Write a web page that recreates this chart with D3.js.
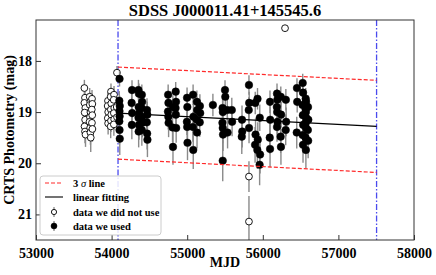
<!DOCTYPE html>
<html>
<head>
<meta charset="utf-8">
<script src="https://cdn.jsdelivr.net/npm/d3@7"></script>
<style>
  body { margin: 0; background: #fff; }
  text { font-family: "Liberation Serif", "Times New Roman", serif; font-weight: bold; }
</style>
</head>
<body>
<div id="chart"></div>
<script>
"use strict";

/* chart title and axis labels */
const chartTitle = "SDSS J000011.41+145545.6";
const xLabel = "MJD";
const yLabel = "CRTS Photometry (mag)";

/* tick values */
const xTicks = [53000, 54000, 55000, 56000, 57000, 58000];
const yTicks = [18, 19, 20, 21];

/* fit window (blue dash-dot lines) */
const fitWindow = [54085, 57505];
/* linear fit: magnitude at the two window edges */
const fitMag = [19.02, 19.28];
/* 3 sigma offset */
const threeSigma = 0.9;

/* data we did not use: [MJD, mag, err] */
const unusedPoints = [
  [53640, 18.53, 0.16], [53648, 18.72, 0.17], [53640, 18.82, 0.18], [53652, 18.92, 0.18],
  [53644, 19.01, 0.19], [53650, 19.15, 0.2], [53642, 19.28, 0.22], [53648, 19.38, 0.23],
  [53655, 19.44, 0.24],
  [53710, 18.70, 0.17], [53718, 18.80, 0.18], [53712, 18.86, 0.18], [53720, 19.00, 0.19],
  [53714, 19.10, 0.2], [53708, 19.19, 0.22], [53716, 19.31, 0.23], [53720, 19.40, 0.24],
  [53724, 19.50, 0.28],
  [53741, 18.74, 0.17], [53745, 18.84, 0.18], [53738, 18.95, 0.19], [53744, 19.06, 0.2],
  [53740, 19.21, 0.22], [53746, 19.33, 0.25],
  [53952, 18.78, 0.17], [53948, 18.88, 0.18], [53955, 19.00, 0.19], [53950, 19.12, 0.2],
  [53954, 19.22, 0.22],
  [53992, 18.60, 0.16], [53988, 18.70, 0.17], [53995, 18.83, 0.18], [53990, 18.95, 0.19],
  [53996, 19.05, 0.2], [53992, 19.17, 0.22], [53988, 19.28, 0.23],
  [54032, 18.66, 0.17], [54028, 18.76, 0.17], [54035, 18.92, 0.18], [54030, 19.02, 0.19],
  [54034, 19.14, 0.2], [54030, 19.24, 0.22],
  [54071, 18.23, 0.13], [54068, 18.90, 0.18], [54072, 19.10, 0.2],
  [55817, 20.26, 0.3], [55817, 21.14, 0.5],
  [56294, 17.36, 0.06]
];

/* data we used: [MJD, mag, err] */
const usedPoints = [
  [54105, 18.35, 0.15], [54102, 18.78, 0.19], [54108, 18.88, 0.2], [54104, 18.98, 0.21],
  [54106, 19.08, 0.23], [54102, 19.18, 0.25], [54105, 19.35, 0.28], [54108, 19.52, 0.32],
  [54270, 18.57, 0.19], [54265, 18.82, 0.22], [54272, 19.02, 0.25], [54268, 19.25, 0.28],
  [54355, 18.57, 0.2], [54362, 18.64, 0.2], [54358, 18.90, 0.23], [54364, 19.02, 0.25],
  [54356, 19.11, 0.26], [54362, 19.25, 0.29], [54358, 19.38, 0.31],
  [54400, 18.66, 0.2], [54404, 18.80, 0.22], [54398, 18.92, 0.23], [54402, 19.09, 0.25],
  [54406, 19.21, 0.28], [54400, 19.35, 0.31],
  [54468, 18.96, 0.23], [54472, 19.05, 0.25], [54466, 19.20, 0.28], [54470, 19.42, 0.31],
  [54474, 19.54, 0.34],
  [54748, 18.66, 0.2], [54752, 18.82, 0.22], [54746, 18.99, 0.24], [54750, 19.09, 0.25],
  [54754, 19.21, 0.28],
  [54810, 18.90, 0.23], [54806, 19.30, 0.29], [54812, 19.68, 0.35],
  [54848, 18.60, 0.19], [54852, 18.80, 0.22], [54846, 18.92, 0.23], [54850, 19.05, 0.25],
  [54854, 19.31, 0.29],
  [54998, 18.72, 0.2], [55002, 18.90, 0.23], [54996, 19.19, 0.26], [55000, 19.29, 0.29],
  [55004, 19.60, 0.34],
  [55078, 18.66, 0.2], [55082, 19.09, 0.25], [55076, 19.29, 0.29], [55080, 19.74, 0.37],
  [55128, 18.80, 0.22], [55132, 18.96, 0.24], [55126, 19.15, 0.26], [55130, 19.40, 0.31],
  [55168, 18.88, 0.23], [55172, 19.02, 0.25], [55166, 19.20, 0.28],
  [55340, 18.86, 0.22],
  [55468, 18.92, 0.23], [55472, 19.00, 0.24], [55466, 19.21, 0.28], [55470, 19.31, 0.3],
  [55474, 19.44, 0.32], [55470, 19.95, 0.4],
  [55500, 18.57, 0.19], [55504, 18.70, 0.2],
  [55530, 18.96, 0.24], [55534, 19.40, 0.31],
  [55590, 18.96, 0.24], [55594, 19.19, 0.28],
  [55725, 19.15, 0.28], [55728, 19.38, 0.31], [55722, 19.48, 0.34],
  [55817, 18.47, 0.19], [55820, 18.82, 0.22], [55814, 18.96, 0.25], [55818, 19.31, 0.3],
  [55900, 18.82, 0.22], [55904, 19.44, 0.32], [55898, 19.64, 0.35],
  [55930, 18.74, 0.21], [55934, 19.54, 0.34], [55928, 19.74, 0.37],
  [55960, 19.11, 0.26], [55964, 19.83, 0.37], [55958, 20.03, 0.4],
  [56095, 18.80, 0.22], [56098, 19.15, 0.28], [56092, 19.50, 0.32], [56096, 19.72, 0.36],
  [56188, 18.64, 0.2], [56192, 18.76, 0.21], [56186, 18.90, 0.23], [56190, 19.00, 0.24],
  [56194, 19.19, 0.28], [56188, 19.29, 0.29],
  [56238, 18.70, 0.2], [56242, 19.05, 0.25], [56236, 19.48, 0.32], [56240, 19.68, 0.35],
  [56305, 18.76, 0.21], [56309, 19.19, 0.28], [56303, 19.35, 0.3],
  [56452, 18.53, 0.19], [56455, 18.80, 0.21], [56449, 19.40, 0.31],
  [56528, 18.43, 0.18], [56532, 18.62, 0.2], [56526, 18.86, 0.22], [56530, 19.06, 0.25],
  [56534, 19.25, 0.28], [56528, 19.45, 0.31], [56532, 19.64, 0.35],
  [56568, 18.74, 0.21], [56572, 18.80, 0.21], [56566, 18.94, 0.23], [56570, 19.00, 0.24],
  [56574, 19.11, 0.25], [56568, 19.21, 0.28], [56572, 19.31, 0.29], [56566, 19.50, 0.32],
  [56570, 19.74, 0.36],
  [56598, 18.90, 0.23], [56602, 19.15, 0.26], [56596, 19.35, 0.3], [56600, 19.56, 0.34]
];

/* legend entries */
const legendLabels = ["3 σ line", "linear fitting", "data we did not use", "data we used"];

/* ---- layout ---- */
const width = 436, height = 275;
const margin = { left: 36, right: 22, top: 20, bottom: 35 };

const svg = d3.select("#chart").append("svg")
  .attr("width", width)
  .attr("height", height);

const x = d3.scaleLinear()
  .domain([53000, 58000])
  .range([margin.left, width - margin.right]);

const y = d3.scaleLinear()
  .domain([17.2, 21.5])
  .range([margin.top, height - margin.bottom]);

/* clip everything to the axes box */
svg.append("clipPath").attr("id", "plotClip")
  .append("rect")
  .attr("x", x.range()[0]).attr("y", y.range()[0])
  .attr("width", x.range()[1] - x.range()[0])
  .attr("height", y.range()[1] - y.range()[0]);

const plot = svg.append("g").attr("clip-path", "url(#plotClip)");

/* blue dash-dot lines marking the fit window */
plot.selectAll(".window")
  .data(fitWindow)
  .enter().append("line")
  .attr("class", "window")
  .attr("x1", d => x(d)).attr("x2", d => x(d))
  .attr("y1", y.range()[0]).attr("y2", y.range()[1])
  .attr("stroke", "#4a4aee")
  .attr("stroke-width", 1.3)
  .attr("stroke-dasharray", "6,2,1.5,2");

/* error bars + markers */
function drawPoints(points, filled) {
  plot.append("g").selectAll("line")
    .data(points)
    .enter().append("line")
    .attr("x1", d => x(d[0])).attr("x2", d => x(d[0]))
    .attr("y1", d => y(d[1] - d[2])).attr("y2", d => y(d[1] + d[2]))
    .attr("stroke", "#8a8a8a")
    .attr("stroke-width", 1.4);

  plot.append("g").selectAll("circle")
    .data(points)
    .enter().append("circle")
    .attr("cx", d => x(d[0]))
    .attr("cy", d => y(d[1]))
    .attr("r", filled ? 3.8 : 3.4)
    .attr("fill", filled ? "#000" : "#fff")
    .attr("stroke", "#000")
    .attr("stroke-width", filled ? 0.5 : 0.9);
}

drawPoints(unusedPoints, false);
drawPoints(usedPoints, true);

/* linear fit and 3 sigma lines */
const fitLine = d3.line().x(d => x(d[0])).y(d => y(d[1]));
const fitPts = fitWindow.map((m, i) => [m, fitMag[i]]);

plot.append("path")
  .attr("d", fitLine(fitPts))
  .attr("fill", "none")
  .attr("stroke", "#000")
  .attr("stroke-width", 1.1);

[-threeSigma, threeSigma].forEach(function(off) {
  plot.append("path")
    .attr("d", fitLine(fitPts.map(p => [p[0], p[1] + off])))
    .attr("fill", "none")
    .attr("stroke", "#ff2a2a")
    .attr("stroke-width", 1.2)
    .attr("stroke-dasharray", "4,2");
});

/* frame */
svg.append("rect")
  .attr("x", x.range()[0]).attr("y", y.range()[0])
  .attr("width", x.range()[1] - x.range()[0])
  .attr("height", y.range()[1] - y.range()[0])
  .attr("fill", "none")
  .attr("stroke", "#333")
  .attr("stroke-width", 1);

/* axes with inward ticks */
const xAxis = svg.append("g")
  .attr("transform", "translate(0," + y.range()[1] + ")")
  .call(d3.axisBottom(x).tickValues(xTicks).tickFormat(d3.format("d")).tickSizeInner(-5).tickSizeOuter(0).tickPadding(8));

const yAxis = svg.append("g")
  .attr("transform", "translate(" + x.range()[0] + ",0)")
  .call(d3.axisLeft(y).tickValues(yTicks).tickFormat(d3.format("d")).tickSizeInner(-5).tickSizeOuter(0).tickPadding(4));

[xAxis, yAxis].forEach(function(ax) {
  ax.select(".domain").remove();
  ax.selectAll(".tick line").attr("stroke", "#333");
  ax.selectAll(".tick text")
    .attr("fill", "#000")
    .style("font-family", "'Liberation Serif', serif")
    .style("font-weight", "bold")
    .style("font-size", "14px");
});

/* titles */
svg.append("text")
  .attr("x", (x.range()[0] + x.range()[1]) / 2)
  .attr("y", 16)
  .attr("text-anchor", "middle")
  .style("font-size", "16.5px")
  .text(chartTitle);

svg.append("text")
  .attr("x", (x.range()[0] + x.range()[1]) / 2)
  .attr("y", 267)
  .attr("text-anchor", "middle")
  .style("font-size", "14px")
  .text(xLabel);

svg.append("text")
  .attr("transform", "translate(14," + ((y.range()[0] + y.range()[1]) / 2) + ") rotate(-90)")
  .attr("text-anchor", "middle")
  .style("font-size", "14px")
  .text(yLabel);

/* legend */
const legend = svg.append("g").attr("transform", "translate(40,176)");

legend.append("rect")
  .attr("width", 121).attr("height", 59)
  .attr("rx", 3)
  .attr("fill", "#fff").attr("fill-opacity", 0.85)
  .attr("stroke", "#ccc");

const rowY = [7, 21, 36, 50];

legend.append("line")
  .attr("x1", 5).attr("x2", 23).attr("y1", rowY[0]).attr("y2", rowY[0])
  .attr("stroke", "#ff2a2a").attr("stroke-width", 1.2).attr("stroke-dasharray", "4,2");

legend.append("line")
  .attr("x1", 5).attr("x2", 23).attr("y1", rowY[1]).attr("y2", rowY[1])
  .attr("stroke", "#000").attr("stroke-width", 1.1);

[[rowY[2], false], [rowY[3], true]].forEach(function(r) {
  legend.append("line")
    .attr("x1", 14).attr("x2", 14).attr("y1", r[0] - 5).attr("y2", r[0] + 5)
    .attr("stroke", "#8a8a8a").attr("stroke-width", 1.3);
  legend.append("circle")
    .attr("cx", 14).attr("cy", r[0])
    .attr("r", r[1] ? 3 : 2.6)
    .attr("fill", r[1] ? "#000" : "#fff")
    .attr("stroke", "#000").attr("stroke-width", r[1] ? 0.5 : 0.9);
});

legend.selectAll(".legText")
  .data(legendLabels)
  .enter().append("text")
  .attr("class", "legText")
  .attr("x", 33)
  .attr("y", (d, i) => rowY[i])
  .attr("dy", "0.35em")
  .style("font-size", "10.5px")
  .each(function(d) {
    const t = d3.select(this);
    if (d.indexOf("σ") >= 0) {
      const parts = d.split("σ");
      t.append("tspan").text(parts[0]);
      t.append("tspan").style("font-style", "italic").style("font-weight", "normal").text("σ");
      t.append("tspan").text(parts[1]);
    } else {
      t.text(d);
    }
  });
</script>
</body>
</html>
